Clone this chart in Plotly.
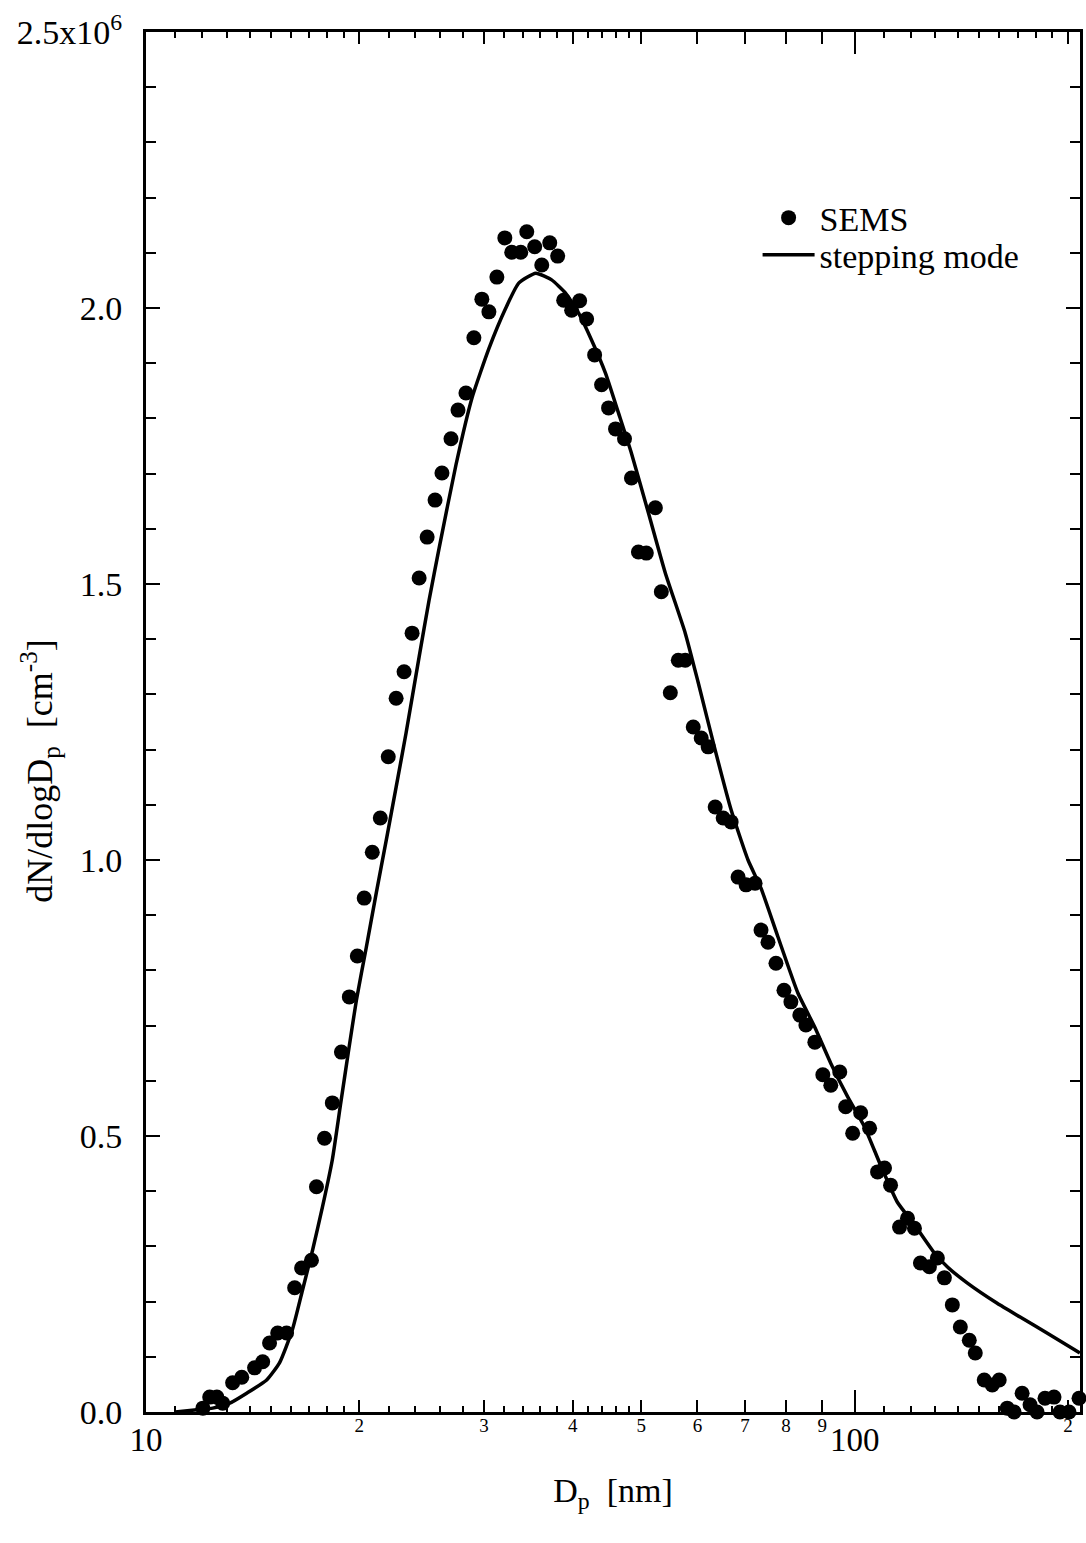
import plotly.graph_objects as go

# ---- data ----
sems_dp = [12.03, 12.30, 12.59, 12.83, 13.25, 13.65, 14.23, 14.61, 14.94, 15.34,
           15.79, 16.21, 16.58, 17.12, 17.40, 17.86, 18.32, 18.87, 19.36, 19.87,
           20.32, 20.86, 21.41, 21.97, 22.54, 23.13, 23.74, 24.29, 24.93, 25.58,
           26.16, 26.94, 27.56, 28.28, 29.02, 29.78, 30.47, 31.27, 32.09, 32.82,
           33.79, 34.46, 35.36, 36.18, 37.13, 38.10, 38.85, 39.87, 40.92, 41.86,
           42.96, 43.94, 44.95, 45.98, 47.34, 48.42, 49.53, 50.82, 52.33, 53.36,
           54.94, 56.38, 57.67, 59.19, 60.74, 62.13, 63.56, 65.23, 66.94, 68.47,
           70.27, 72.36, 73.77, 75.46, 77.44, 79.48, 81.29, 83.69, 85.35, 87.87,
           90.18, 92.54, 95.28, 97.12, 99.36, 101.96, 104.98, 107.73, 110.20, 112.37,
           115.70, 118.73, 121.45, 123.83, 127.50, 130.84, 133.85, 137.36, 140.97, 145.13,
           147.99, 152.36, 156.37, 159.95, 164.16, 167.88, 172.31, 176.81, 180.88, 185.62,
           191.13, 194.89, 200.67, 207.31]
sems_n = [0.007, 0.027, 0.027, 0.016, 0.053, 0.063, 0.080, 0.091, 0.125, 0.143,
          0.143, 0.225, 0.261, 0.275, 0.408, 0.496, 0.560, 0.652, 0.752, 0.826,
          0.931, 1.014, 1.076, 1.187, 1.293, 1.341, 1.411, 1.511, 1.585, 1.652,
          1.701, 1.763, 1.815, 1.846, 1.946, 2.016, 1.993, 2.056, 2.127, 2.101,
          2.101, 2.138, 2.111, 2.078, 2.118, 2.094, 2.014, 1.996, 2.013, 1.980,
          1.915, 1.861, 1.819, 1.781, 1.763, 1.692, 1.558, 1.556, 1.638, 1.486,
          1.303, 1.362, 1.362, 1.241, 1.221, 1.205, 1.096, 1.076, 1.069, 0.969,
          0.955, 0.958, 0.873, 0.851, 0.813, 0.764, 0.743, 0.719, 0.701, 0.670,
          0.611, 0.592, 0.616, 0.553, 0.505, 0.542, 0.514, 0.435, 0.442, 0.411,
          0.335, 0.351, 0.333, 0.270, 0.263, 0.279, 0.243, 0.194, 0.154, 0.130,
          0.107, 0.058, 0.049, 0.058, 0.007, 0.0, 0.034, 0.013, 0.0, 0.025,
          0.027, 0.0, 0.0, 0.025]
sems_n = [v * 1e6 for v in sems_n]

step_dp = [11.0, 11.80, 12.42, 13.13, 13.87, 14.80, 15.43, 16.09, 16.63, 17.18,
           17.74, 18.32, 18.81, 19.30, 19.81, 20.46, 21.13, 21.83, 22.54, 23.28,
           24.29, 25.09, 25.92, 27.38, 28.84, 30.46, 32.19, 33.57, 35.48, 37.36,
           39.09, 40.77, 42.53, 44.50, 46.42, 48.42, 51.16, 54.05, 57.67, 60.16,
           63.56, 66.93, 70.72, 73.76, 77.93, 83.16, 87.86, 92.52, 97.77, 103.3,
           108.8, 114.9, 121.5, 129.6, 135.1, 144.1, 158.9, 171.2, 186.8, 207.9]
step_n = [0.0, 0.004, 0.007, 0.016, 0.034, 0.058, 0.089, 0.149, 0.221, 0.293,
          0.371, 0.457, 0.556, 0.652, 0.746, 0.842, 0.940, 1.036, 1.132, 1.230,
          1.368, 1.471, 1.565, 1.716, 1.837, 1.926, 2.000, 2.045, 2.063, 2.051,
          2.027, 1.991, 1.942, 1.882, 1.810, 1.737, 1.629, 1.520, 1.411, 1.321,
          1.199, 1.091, 1.000, 0.949, 0.861, 0.759, 0.697, 0.632, 0.571, 0.516,
          0.447, 0.380, 0.339, 0.288, 0.263, 0.234, 0.197, 0.172, 0.143, 0.107]
step_n = [v * 1e6 for v in step_n]

x_small_vals = [20, 30, 40, 50, 60, 70, 80, 90, 200]
x_small_text = ["2", "3", "4", "5", "6", "7", "8", "9", "2"]
x_big_vals = [10, 100]
x_big_text = ["10", "100"]
x_minor_vals = [11, 12, 13, 14, 15, 16, 17, 18, 19, 22, 24, 26, 28, 32, 34, 36, 38,
                42, 44, 46, 48, 110, 120, 130, 140, 150, 160, 170, 180, 190]
y_major_vals = [0, 0.5e6, 1.0e6, 1.5e6, 2.0e6, 2.5e6]
y_major_text = ["0.0", "0.5", "1.0", "1.5", "2.0", "2.5x10<sup>6</sup>"]
y_minor_vals = [i * 1e5 for i in range(26)]

FONT = "Liberation Serif"
XR = [1.0, 2.318]

fig = go.Figure()
fig.add_trace(go.Scatter(
    x=sems_dp, y=sems_n, mode="markers", name="SEMS", legend="legend",
    marker=dict(color="black", size=15, symbol="circle"),
    cliponaxis=False,
))
fig.add_trace(go.Scatter(
    x=step_dp, y=step_n, mode="lines", name="stepping mode", legend="legend2",
    line=dict(color="black", width=3.5, shape="spline", smoothing=0.5),
))
# invisible trace bound to the overlay axis so it gets drawn
fig.add_trace(go.Scatter(x=[10, 100], y=[None, None], xaxis="x2", showlegend=False,
                         hoverinfo="skip", mode="markers"))

leg_common = dict(xanchor="left", yanchor="top", bgcolor="rgba(0,0,0,0)",
                  font=dict(family=FONT, size=34), itemwidth=52)

fig.update_layout(
    width=1086, height=1543,
    margin=dict(l=146, r=3, t=32, b=131),
    paper_bgcolor="white", plot_bgcolor="white",
    font=dict(family=FONT, color="black", size=34),
    showlegend=True,
    legend=dict(x=0.6548, y=0.8862, **leg_common),
    legend2=dict(x=0.6548, y=0.8594, **leg_common),
    xaxis=dict(
        type="log", range=XR, showline=True, linecolor="black", linewidth=3,
        mirror="ticks", ticks="inside", ticklen=12, tickwidth=2, tickcolor="black",
        tickmode="array", tickvals=x_small_vals, ticktext=x_small_text,
        tickfont=dict(family=FONT, size=19), ticklabelstandoff=-6,
        showgrid=False, zeroline=False,
        minor=dict(tickmode="array", tickvals=x_minor_vals, ticks="inside",
                   ticklen=6, tickwidth=2, tickcolor="black", showgrid=False),
        title=dict(text="D<sub>p</sub>  [nm]", font=dict(family=FONT, size=34), standoff=44),
    ),
    xaxis2=dict(
        type="log", range=XR, overlaying="x", anchor="y", side="bottom",
        showline=False, mirror="ticks", ticks="inside", ticklen=22, tickwidth=2,
        tickcolor="black", tickmode="array", tickvals=x_big_vals, ticktext=x_big_text,
        tickfont=dict(family=FONT, size=33), ticklabelstandoff=5,
        showgrid=False, zeroline=False,
    ),
    yaxis=dict(
        range=[0, 2.5e6], showline=True, linecolor="black", linewidth=3,
        mirror="ticks", ticks="inside", ticklen=14, tickwidth=2, tickcolor="black",
        tickmode="array", tickvals=y_major_vals, ticktext=y_major_text,
        tickfont=dict(family=FONT, size=34), ticklabelstandoff=14,
        showgrid=False, zeroline=False,
        minor=dict(tickmode="array", tickvals=y_minor_vals, ticks="inside",
                   ticklen=10, tickwidth=2, tickcolor="black", showgrid=False),
    ),
    annotations=[dict(
        text="dN/dlogD<sub>p</sub>  [cm<sup>-3</sup>]", textangle=-90,
        xref="paper", yref="paper", x=-0.113, y=0.465, xanchor="center", yanchor="middle",
        showarrow=False, font=dict(family=FONT, size=36),
    )],
)

fig.write_html("out.html")
